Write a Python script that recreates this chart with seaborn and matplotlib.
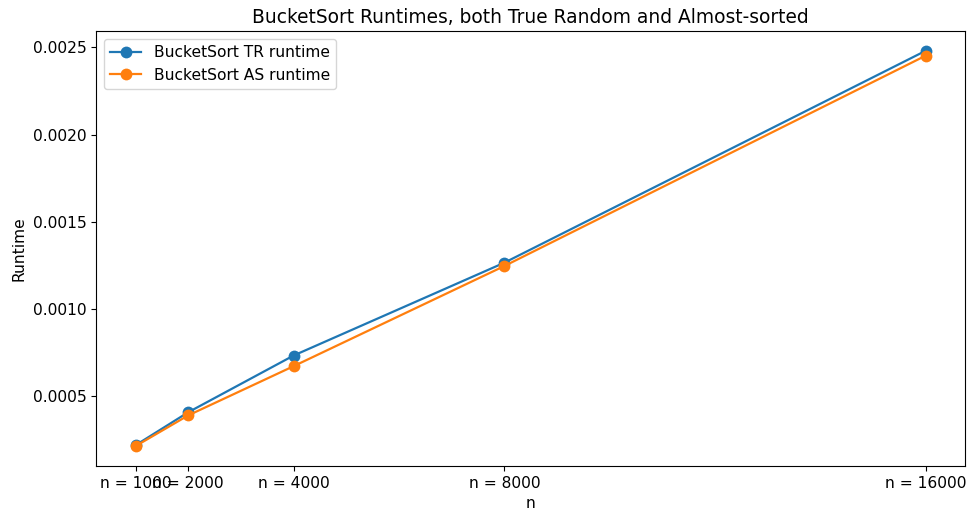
import pandas as pd
import numpy as np
import seaborn as sns
import matplotlib.pyplot as plt

# input sizes and runtimes (seconds)
n_values = [1000, 2000, 4000, 8000, 16000]
tr_runtime = [0.000219, 0.000408, 0.000733, 0.001265, 0.002480]
as_runtime = [0.000214, 0.000390, 0.000672, 0.001246, 0.002452]
tick_labels = ['n = 1000', 'n = 2000', 'n = 4000', 'n = 8000', 'n = 16000']

df = pd.DataFrame({'n': n_values + n_values,
                   'Runtime': tr_runtime + as_runtime,
                   'series': ['BucketSort TR runtime'] * 5 + ['BucketSort AS runtime'] * 5})

plt.rcParams['font.size'] = 11.2

fig, ax = plt.subplots(figsize=(9.71, 5.17), dpi=100)
sns.lineplot(data=df, x='n', y='Runtime', hue='series', marker='o',
             markersize=8.5, markeredgewidth=0, linewidth=1.6,
             palette=['#1f77b4', '#ff7f0e'], ax=ax)

ax.set_xticks(n_values)
ax.set_xticklabels(tick_labels)
ax.set_xlabel('n')
ax.set_ylabel('Runtime')
ax.set_title('BucketSort Runtimes, both True Random and Almost-sorted')
ax.legend(loc='upper left')

plt.subplots_adjust(left=0.099, right=0.994, top=0.94, bottom=0.099)
plt.savefig('out.png')
